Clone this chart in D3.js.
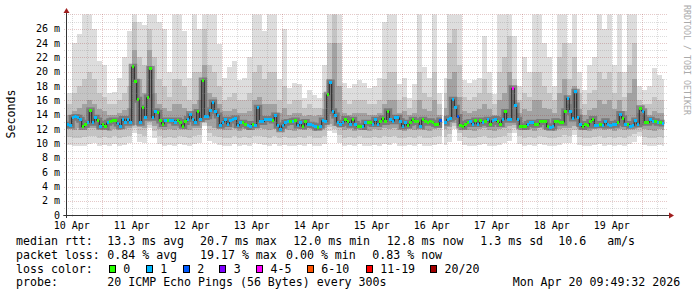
<!DOCTYPE html>
<html>
<head>
<meta charset="utf-8">
<script src="https://cdn.jsdelivr.net/npm/d3@7"></script>
<style>
  body { margin: 0; background: #fff; }
  svg { display: block; font-family: "DejaVu Sans Mono", monospace; }
</style>
</head>
<body>
<svg id="chart" width="697" height="297"></svg>
<script>
// hourly median rtt (ms), one value per step, null = unknown
const median = [
  12.6,12.5,13.6,13.7,13.6,13.3,12.3,12.6,12.9,14.6,
  12.9,13.6,13.2,12.4,12.7,12.3,12.9,13.1,13.2,13.2,
  12.8,12.4,13.4,12.9,13.4,12.9,20.7,18.6,16.1,12.9,
  15.0,13.6,16.4,20.4,13.6,14.5,14.3,13.2,12.7,13.2,
  13.2,13.2,13.2,12.9,13.2,12.9,12.4,13.0,13.4,14.1,
  13.4,12.9,14.4,13.4,18.8,13.7,13.8,14.6,15.7,14.5,
  13.9,12.5,12.9,13.3,12.7,13.2,13.3,13.5,12.5,12.9,
  12.9,12.7,12.5,12.3,12.7,12.5,15.0,13.0,13.0,13.4,
  13.4,13.4,13.2,13.9,12.5,12.0,12.5,12.9,13.0,13.0,
  13.1,13.2,12.5,12.9,12.4,13.0,12.6,12.6,12.5,12.4,
  12.2,12.4,13.2,13.0,16.8,18.5,14.5,13.9,12.9,12.7,
  12.9,13.4,13.0,12.6,13.3,12.7,12.4,12.4,12.3,12.9,
  12.9,12.9,12.7,13.3,12.7,13.1,13.5,13.0,14.5,13.3,
  13.1,13.6,13.6,13.1,12.4,12.9,12.5,12.9,13.3,13.1,
  13.0,12.4,13.3,13.1,12.9,13.1,12.9,12.7,12.6,13.2,
  null,12.9,13.4,13.5,16.1,15.0,13.7,12.5,12.3,12.7,
  12.9,13.0,12.7,13.2,12.7,13.2,12.9,13.0,13.3,12.7,
  13.2,13.4,13.0,12.7,13.3,14.4,13.4,13.3,17.7,15.3,
  13.3,12.4,12.3,12.3,12.7,12.9,12.9,12.6,12.7,13.0,
  13.0,13.0,12.3,12.2,12.4,13.1,13.0,12.9,12.9,14.5,
  16.3,14.4,13.5,17.2,13.6,12.7,12.3,12.7,12.5,13.0,
  13.4,12.5,12.5,12.7,12.5,13.1,12.7,12.5,12.7,12.6,
  12.9,14.1,13.5,12.7,12.7,12.4,12.5,13.2,12.7,14.9,
  14.5,12.9,12.9,13.3,13.1,13.1,12.9,12.9,12.8
];

// lost pings (of 20) per step
const lossCount = [
  1,1,1,1,1,1,0,0,1,0, 1,1,0,1,0,0,1,0,0,0, 1,1,1,1,1,1,0,0,0,1,
  0,1,0,0,1,1,0,0,0,1, 0,1,1,1,0,0,0,0,1,1, 1,1,0,1,0,1,1,1,1,1,
  1,1,1,1,1,1,1,1,1,1, 0,0,1,1,0,1,1,1,1,1, 1,1,0,1,1,1,1,1,1,0,
  1,0,1,1,0,0,1,1,1,1, 0,1,1,1,0,1,1,1,1,1, 1,0,0,1,0,1,0,0,1,1,
  0,0,1,1,1,0,0,0,0,1, 1,1,1,1,1,1,0,0,0,0, 0,1,0,0,0,0,0,0,0,2,
  0,1,1,1,1,1,2,0,0,0, 0,1,1,0,1,0,1,0,1,0, 1,1,0,0,1,0,1,1,4,1,
  1,0,0,0,1,1,1,0,0,0, 0,0,0,1,1,0,0,0,0,0, 1,1,1,1,1,1,0,0,0,0,
  0,1,1,0,1,1,1,1,1,1, 0,1,0,1,0,1,1,1,1,0, 1,0,0,1,1,0,1,0,1
];

// smoke: ping spread per 2-hour column (ms)
const pingMax = [
  17,24,25.3,28,28,26,21.5,21,17,17.2,
  19.2,22,25.7,28,27,26.5,28,28,27,26,
  20,28,28,25.7,19.2,28,26,28,28,28,
  23.9,19.2,20.6,21.5,18.8,19.2,22,28,28,25.7,
  28,28,19,26,17.8,18.5,18.3,16.4,17.4,16.7,
  16.4,21,28,28,28,18.5,17.8,18.3,18.8,18.5,
  17.8,18,19.2,27,28,28,18.3,19.2,16.4,18.3,
  28,20.6,19.2,28,17,19.2,28,28,28,18.8,
  18.5,18.8,19.2,25,20,16.9,28,28,28,25,
  18,22,20,28,28,24,22,18,28,28,
  24,28,20,17.5,21,22,28,26,28,21,
  28,20,28,28,18,17.5,18,20.5,19.5,19
];
const pingHigh = [
  15.5,17,18,19,20,19,17,16.5,15.5,15.5,
  16,17,18,27,22,21,26,22,19,18,
  16.5,19,19,18,16,20,20,26,21,20,
  18,16,16.5,17,16,16,17,20,21,19,
  20,20,16,18,15.5,16,16,15,15.5,15,
  15,17,24,28,24,16,15.5,16,16,16,
  15.5,15.5,16,19,20,20,16,16.5,15,16,
  20,17,16.5,20,15.5,17,24,26,21,16.5,
  16,16.5,17,19,17,15.5,20,22,25,19,
  16,17,16.5,20,20,18,17,16,22,24,
  19,22,17,15.5,17,17.5,20,19,20,17,
  20,16.5,21,24,16,15.5,15.5,16.5,16,16
];
const pingMid = [
  14,14.5,15,15.5,16,15.5,14.8,14.5,14,14,
  14.2,14.6,15,23,19,17,23,17,15.5,15,
  14.5,15.5,15.5,15,14.3,15.5,16,21,17,16.5,
  15.5,14.5,14.5,14.8,14.3,14.3,14.5,16,16.5,15.5,
  15.5,15.5,14.3,15,14,14.2,14.2,13.9,14,13.9,
  14,14.8,19,24,18,14.3,14,14.2,14.3,14.3,
  14,14,14.3,15.5,16,16,14.3,14.5,14,14.3,
  16,14.8,14.5,16,14,15,19,20,16.5,14.5,
  14.3,14.5,14.8,15.5,14.8,14,16,17,20,16,
  14.3,14.8,14.5,16,16,15,14.8,14.2,17,19,
  15.5,18,14.8,14,14.6,15,16,15.5,16,14.8,
  16,14.5,17,19,14.3,14,14,14.5,14.3,14.3
];
const pingQ1 = [
  12.0,11.9,12.1,12.2,12.1,12.2,11.9,12.0,11.8,12.0,
  11.9,12.0,12.2,12.6,12.3,12.2,13.0,12.5,12.0,11.9,
  12.0,11.9,12.1,12.0,11.9,12.1,12.2,13.0,12.4,12.2,
  12.0,11.9,11.9,12.1,11.8,12.0,11.9,12.2,12.1,12.0,
  11.9,12.0,11.8,12.0,11.9,11.8,12.0,11.9,12.1,11.8,
  11.9,12.1,12.7,12.5,12.2,11.9,12.0,11.8,12.1,11.9,
  11.8,12.0,11.9,12.1,12.0,12.2,11.9,11.8,12.0,11.9,
  12.1,11.9,11.8,12.0,12.1,12.0,12.3,12.8,12.4,12.0,
  11.9,11.8,12.0,12.1,11.9,11.8,12.0,12.2,12.4,12.6,
  12.1,11.9,12.0,11.8,12.1,12.0,11.9,11.8,12.0,12.2,
  12.1,12.4,12.0,11.9,11.8,12.0,12.1,11.9,12.0,11.8,
  12.0,11.9,12.1,12.3,12.2,12.0,11.9,11.8,12.0,11.9
];
const pingLow = [
  10.9,10.8,10.7,10.9,11.0,11.1,10.8,10.9,10.8,11.0,
  10.7,10.9,11.1,12.2,11.3,11.1,12.6,11.7,11.0,10.8,
  10.9,10.7,11.0,10.9,10.8,11.0,11.2,12.8,11.4,11.1,
  10.9,10.8,10.8,11.0,10.7,10.9,10.8,11.1,11.0,10.9,
  10.8,11.0,10.7,10.9,10.8,10.7,10.9,10.8,11.0,10.7,
  10.8,11.0,12.3,12.0,11.2,10.8,10.9,10.7,11.0,10.8,
  10.7,10.9,10.8,11.0,10.9,11.1,10.8,10.7,10.9,10.8,
  11.0,10.8,10.7,10.9,11.0,10.9,11.3,12.5,11.4,10.9,
  10.8,10.7,10.9,11.0,10.8,10.7,10.9,11.1,11.5,12.1,
  11.0,10.8,10.9,10.7,11.0,10.9,10.8,10.7,10.9,11.2,
  11.1,11.9,10.9,10.8,10.7,10.9,11.0,10.8,10.9,10.7,
  10.9,10.8,11.0,11.3,11.6,10.9,10.8,10.7,10.9,10.8
];
const pingMin = [
  9.8,9.7,9.6,9.7,9.9,10.0,9.6,9.8,9.7,9.9,
  9.6,9.8,10.0,11.5,10.2,10.0,12.2,10.8,9.9,9.7,
  9.8,9.6,9.9,9.8,9.7,9.9,10.1,12.5,10.3,10.0,
  9.8,9.6,9.7,9.9,9.6,9.8,9.7,10.0,9.9,9.8,
  9.7,9.9,9.6,9.8,9.7,9.6,9.8,9.7,9.9,9.6,
  9.7,9.9,11.8,11.4,10.1,9.7,9.8,9.6,9.9,9.7,
  9.6,9.8,9.7,9.9,9.8,10.0,9.7,9.6,9.8,9.7,
  9.9,9.7,9.6,9.8,9.9,9.8,10.2,12.0,10.3,9.8,
  9.7,9.6,9.8,9.9,9.7,9.6,9.8,10.0,10.4,11.5,
  9.9,9.7,9.8,9.6,9.9,9.8,9.7,9.6,9.8,10.1,
  10.0,11.2,9.8,9.7,9.6,9.8,9.9,9.7,9.8,9.6,
  9.8,9.7,9.9,10.2,11.0,9.8,9.7,9.6,9.8,9.7
];

// legend
const lossLabels = ["0", "1", "2", "3", "4-5", "6-10", "11-19", "20/20"];
const lossUpper = [0, 1, 2, 3, 5, 10, 19, 20];
const lossColors = ["#26ff00", "#00b8ff", "#0059ff", "#7e00ff", "#ff00ff", "#ff5500", "#ff0000", "#a10000"];
const rttStats = ["13.3 ms avg", "20.7 ms max", "12.0 ms min", "12.8 ms now", " 1.3 ms sd", "10.6   am/s"];
const lossStats = ["0.84 % avg", "19.17 % max", "0.00 % min", "0.83 % now"];
const probeText = "20 ICMP Echo Pings (56 Bytes) every 300s";
const stampText = "Mon Apr 20 09:49:32 2026";

const start = new Date(2026, 3, 10, 9, 49, 32);
const end = new Date(2026, 3, 20, 9, 49, 32);
const firstStep = new Date(2026, 3, 10, 10, 0, 0);

const svg = d3.select("#chart");
const plotLeft = 66.3, plotRight = 666.3, plotTop = 14.4, plotBottom = 215.2;

const x = d3.scaleTime().domain([start, end]).range([plotLeft, plotRight]);
const y = d3.scaleLinear().domain([0, 28]).range([plotBottom, plotTop]);

svg.append("rect").attr("width", 697).attr("height", 297).attr("fill", "#fff");

svg.append("defs").append("clipPath").attr("id", "clip")
  .append("rect")
  .attr("x", plotLeft).attr("y", plotTop)
  .attr("width", plotRight - plotLeft).attr("height", plotBottom - plotTop);

const steps = median.map((v, i) => ({
  v: v,
  col: Math.floor(i / 2),
  t0: d3.timeHour.offset(firstStep, i),
  t1: d3.timeHour.offset(firstStep, i + 1),
  bucket: d3.bisectLeft(lossUpper, lossCount[i])
}));
const known = steps.filter((d) => d.v !== null);

const plot = svg.append("g").attr("clip-path", "url(#clip)");

// smoke bands, outer to inner
const bands = [
  { lo: pingMin, hi: pingMax, color: "#dddddd" },
  { lo: pingLow, hi: pingHigh, color: "#c4c4c4" },
  { lo: pingQ1, hi: pingMid, color: "#a2a2a2" }
];
bands.forEach((b) => {
  plot.append("g")
    .attr("shape-rendering", "crispEdges")
    .selectAll("rect")
    .data(known)
    .join("rect")
    .attr("x", (d) => x(d.t0))
    .attr("width", (d) => x(d.t1) - x(d.t0))
    .attr("y", (d) => y(b.hi[d.col]))
    .attr("height", (d) => y(b.lo[d.col]) - y(b.hi[d.col]))
    .attr("fill", b.color);
});

const stepPoints = steps.flatMap((d) => [
  { px: x(d.t0), v: d.v },
  { px: x(d.t1), v: d.v }
]);
const stepLine = d3.line()
  .defined((p) => p.v !== null)
  .x((p) => p.px)
  .y((p) => y(p.v));

// dark core of the smoke around the median
plot.append("path")
  .attr("d", stepLine(stepPoints))
  .attr("fill", "none")
  .attr("stroke", "#5a5a5a")
  .attr("stroke-width", 6)
  .attr("stroke-opacity", 0.55);

// grid
const grid = svg.append("g").attr("shape-rendering", "crispEdges");
const minorGrid = "rgba(140,140,140,0.3)";
const majorGrid = "rgba(150,40,40,0.25)";

d3.range(0, 28.5, 1).forEach((v) => {
  grid.append("line")
    .attr("x1", plotLeft - 2.5).attr("x2", plotRight + 2)
    .attr("y1", Math.round(y(v)) + 0.5).attr("y2", Math.round(y(v)) + 0.5)
    .attr("stroke", v % 2 === 0 ? majorGrid : minorGrid)
    .attr("stroke-dasharray", "1,1");
});

d3.timeHour.every(6).range(start, end).forEach((t) => {
  const isDay = t.getHours() === 0;
  grid.append("line")
    .attr("x1", Math.round(x(t)) + 0.5).attr("x2", Math.round(x(t)) + 0.5)
    .attr("y1", plotTop).attr("y2", plotBottom + 2.5)
    .attr("stroke", isDay ? majorGrid : minorGrid)
    .attr("stroke-dasharray", "1,1");
});

// median line and loss colored steps
plot.append("path")
  .attr("d", stepLine(stepPoints))
  .attr("fill", "none")
  .attr("stroke", "#202020")
  .attr("stroke-width", 1);

plot.append("g")
  .attr("shape-rendering", "crispEdges")
  .selectAll("rect")
  .data(known)
  .join("rect")
  .attr("x", (d) => x(d.t0))
  .attr("width", (d) => x(d.t1) - x(d.t0))
  .attr("y", (d) => y(d.v) - 1.5)
  .attr("height", 3)
  .attr("fill", (d) => lossColors[d.bucket]);

// axes
const axisColor = "#333";
const arrowColor = "#a01e1e";
svg.append("line")
  .attr("x1", plotLeft - 3).attr("x2", 670)
  .attr("y1", 215.5).attr("y2", 215.5)
  .attr("stroke", axisColor);
svg.append("path")
  .attr("d", "M669,212.5L674,215.5L669,218.5Z")
  .attr("fill", arrowColor);
svg.append("line")
  .attr("x1", 66.5).attr("x2", 66.5)
  .attr("y1", 218).attr("y2", 12)
  .attr("stroke", axisColor);
svg.append("path")
  .attr("d", "M63.5,13L66.5,8L69.5,13Z")
  .attr("fill", arrowColor);

// y labels
svg.append("g")
  .selectAll("text")
  .data(d3.range(0, 27, 2))
  .join("text")
  .attr("x", 60)
  .attr("y", (v) => y(v) + 3.5)
  .attr("text-anchor", "end")
  .attr("font-size", "10px")
  .attr("fill", "#000")
  .text((v) => (v === 0 ? "0" : v + "\u00a0m"));

// x labels at noon
const fmt = d3.timeFormat("%d %b");
const noons = d3.timeDay.range(d3.timeDay.floor(start), end)
  .map((d) => d3.timeHour.offset(d, 12))
  .filter((d) => d > start && d < end);
svg.append("g")
  .selectAll("text")
  .data(noons)
  .join("text")
  .attr("x", (d) => x(d))
  .attr("y", 228.5)
  .attr("text-anchor", "middle")
  .attr("font-size", "10px")
  .attr("fill", "#000")
  .text((d) => fmt(d));

svg.append("text")
  .attr("transform", "translate(15,114) rotate(-90)")
  .attr("text-anchor", "middle")
  .attr("font-size", "11.6px")
  .attr("fill", "#000")
  .text("Seconds");

svg.append("text")
  .attr("transform", "translate(684,5) rotate(90)")
  .attr("font-size", "8.3px")
  .attr("fill", "#aaaaaa")
  .text("RRDTOOL / TOBI OETIKER");

// legend rows (non-breaking spaces keep the padding)
const legend = svg.append("g")
  .attr("font-size", "11.6px")
  .attr("fill", "#000");

const rowY = [245, 258.8, 272.6, 286.4];
const addText = (tx, ty, s) =>
  legend.append("text").attr("x", tx).attr("y", ty).text(s.replace(/ /g, "\u00a0"));

addText(16, rowY[0], "median rtt:");
[107.3, 200, 293.3, 386.7, 473.3, 558.3].forEach((px, i) => addText(px, rowY[0], rttStats[i]));

addText(16, rowY[1], "packet loss:");
[107.3, 200, 286, 372.3].forEach((px, i) => addText(px, rowY[1], lossStats[i]));

addText(16, rowY[2], "loss color:");
const boxX = [108.7, 145.7, 182.7, 219.3, 256, 306.7, 365.7, 430];
lossLabels.forEach((lab, i) => {
  legend.append("rect")
    .attr("x", Math.round(boxX[i]) + 0.5)
    .attr("y", 265.5)
    .attr("width", 6)
    .attr("height", 7)
    .attr("fill", lossColors[i])
    .attr("stroke", "#000");
  addText(boxX[i] + 14.5, rowY[2], lab);
});

addText(16, rowY[3], "probe:");
addText(107.3, rowY[3], probeText);
addText(512.7, rowY[3], stampText);
</script>
</body>
</html>
